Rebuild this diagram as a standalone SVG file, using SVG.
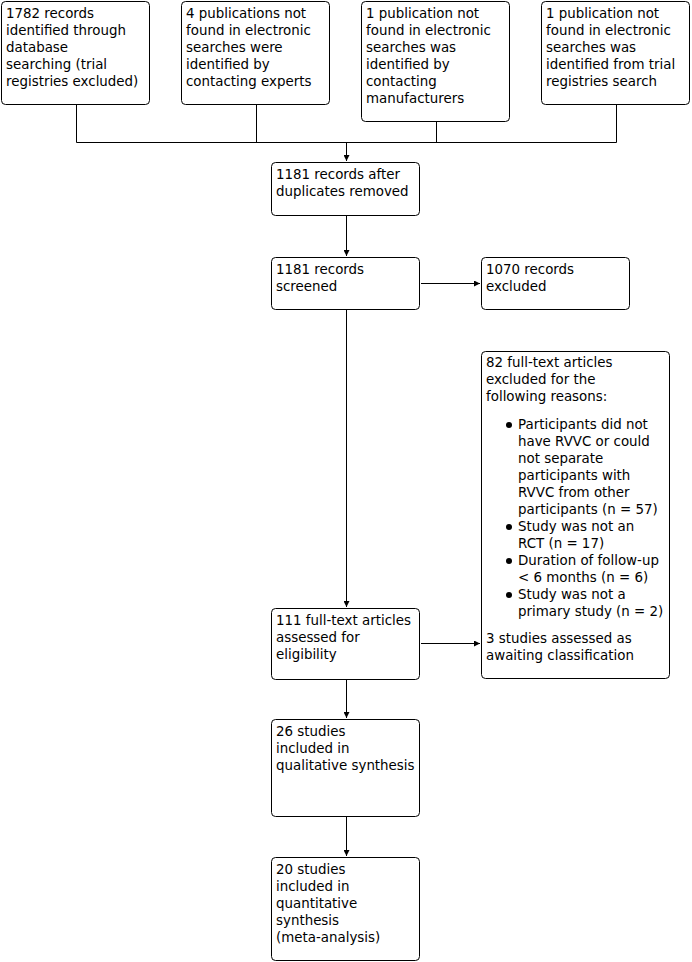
<svg xmlns="http://www.w3.org/2000/svg" width="692" height="962" viewBox="0 0 692 962">
<style>
.box{fill:#fff;stroke:#000;stroke-width:1}
text{font-family:"DejaVu Sans",Verdana,sans-serif;font-size:13.4px;fill:#000}
.ln{fill:none;stroke:#000;stroke-width:1}
</style>
<defs>
<marker id="ah" viewBox="0 0 6 6" refX="6" refY="3" markerWidth="6" markerHeight="6" markerUnits="userSpaceOnUse" orient="auto">
<path d="M0,0 L6,3 L0,6 Z" fill="#000"/>
</marker>
</defs>
<rect width="692" height="962" fill="#fff"/>
<g id="connectors">
<path class="ln" d="M76.5,104 V142.5 H616.5 V104"/>
<path class="ln" d="M256.5,104 V142.5"/>
<path class="ln" d="M436.5,121 V142.5"/>
<path class="ln" d="M346.5,142.5 V161" marker-end="url(#ah)"/>
<path class="ln" d="M346.5,215 V256" marker-end="url(#ah)"/>
<path class="ln" d="M421,283.5 H480" marker-end="url(#ah)"/>
<path class="ln" d="M346.5,309 V607" marker-end="url(#ah)"/>
<path class="ln" d="M421,643.5 H480" marker-end="url(#ah)"/>
<path class="ln" d="M346.5,679 V718" marker-end="url(#ah)"/>
<path class="ln" d="M346.5,816 V856" marker-end="url(#ah)"/>
</g>
<g id="n1"><rect class="box" x="1.5" y="1.5" width="148" height="103" rx="4"/>
<text x="6" y="18"><tspan x="6">1782 records</tspan><tspan x="6" dy="17">identified through</tspan><tspan x="6" dy="17">database</tspan><tspan x="6" dy="17">searching (trial</tspan><tspan x="6" dy="17">registries excluded)</tspan></text></g>
<g id="n2"><rect class="box" x="181.5" y="1.5" width="148" height="103" rx="4"/>
<text x="186" y="18"><tspan x="186">4 publications not</tspan><tspan x="186" dy="17">found in electronic</tspan><tspan x="186" dy="17">searches were</tspan><tspan x="186" dy="17">identified by</tspan><tspan x="186" dy="17">contacting experts</tspan></text></g>
<g id="n3"><rect class="box" x="361.5" y="1.5" width="148" height="120" rx="4"/>
<text x="366" y="18"><tspan x="366">1 publication not</tspan><tspan x="366" dy="17">found in electronic</tspan><tspan x="366" dy="17">searches was</tspan><tspan x="366" dy="17">identified by</tspan><tspan x="366" dy="17">contacting</tspan><tspan x="366" dy="17">manufacturers</tspan></text></g>
<g id="n4"><rect class="box" x="541.5" y="1.5" width="148" height="103" rx="4"/>
<text x="546" y="18"><tspan x="546">1 publication not</tspan><tspan x="546" dy="17">found in electronic</tspan><tspan x="546" dy="17">searches was</tspan><tspan x="546" dy="17">identified from trial</tspan><tspan x="546" dy="17">registries search</tspan></text></g>
<g id="n5"><rect class="box" x="271.5" y="162.5" width="148" height="53" rx="4"/>
<text x="276" y="179"><tspan x="276">1181 records after</tspan><tspan x="276" dy="17">duplicates removed</tspan></text></g>
<g id="n6"><rect class="box" x="271.5" y="257.5" width="148" height="52" rx="4"/>
<text x="276" y="274"><tspan x="276">1181 records</tspan><tspan x="276" dy="17">screened</tspan></text></g>
<g id="n7"><rect class="box" x="481.5" y="257.5" width="148" height="52" rx="4"/>
<text x="486" y="274"><tspan x="486">1070 records</tspan><tspan x="486" dy="17">excluded</tspan></text></g>
<g id="n8"><rect class="box" x="481.5" y="351.5" width="188" height="327" rx="4"/>
<text x="486" y="367"><tspan x="486">82 full-text articles</tspan><tspan x="486" dy="17">excluded for the</tspan><tspan x="486" dy="17">following reasons:</tspan></text>
<circle cx="509" cy="425" r="3"/>
<circle cx="509" cy="527" r="3"/>
<circle cx="509" cy="561" r="3"/>
<circle cx="509" cy="595" r="3"/>
<text x="518" y="429"><tspan x="518">Participants did not</tspan><tspan x="518" dy="17">have RVVC or could</tspan><tspan x="518" dy="17">not separate</tspan><tspan x="518" dy="17">participants with</tspan><tspan x="518" dy="17">RVVC from other</tspan><tspan x="518" dy="17">participants (n = 57)</tspan><tspan x="518" dy="17">Study was not an</tspan><tspan x="518" dy="17">RCT (n = 17)</tspan><tspan x="518" dy="17">Duration of follow-up</tspan><tspan x="518" dy="17">&lt; 6 months (n = 6)</tspan><tspan x="518" dy="17">Study was not a</tspan><tspan x="518" dy="17">primary study (n = 2)</tspan></text>
<text x="486" y="643"><tspan x="486">3 studies assessed as</tspan><tspan x="486" dy="17">awaiting classification</tspan></text></g>
<g id="n9"><rect class="box" x="271.5" y="608.5" width="148" height="71" rx="4"/>
<text x="276" y="625"><tspan x="276">111 full-text articles</tspan><tspan x="276" dy="17">assessed for</tspan><tspan x="276" dy="17">eligibility</tspan></text></g>
<g id="n10"><rect class="box" x="271.5" y="719.5" width="148" height="97" rx="4"/>
<text x="276" y="736"><tspan x="276">26 studies</tspan><tspan x="276" dy="17">included in</tspan><tspan x="276" dy="17">qualitative synthesis</tspan></text></g>
<g id="n11"><rect class="box" x="271.5" y="857.5" width="148" height="103" rx="4"/>
<text x="276" y="874"><tspan x="276">20 studies</tspan><tspan x="276" dy="17">included in</tspan><tspan x="276" dy="17">quantitative</tspan><tspan x="276" dy="17">synthesis</tspan><tspan x="276" dy="17">(meta-analysis)</tspan></text></g>
</svg>
